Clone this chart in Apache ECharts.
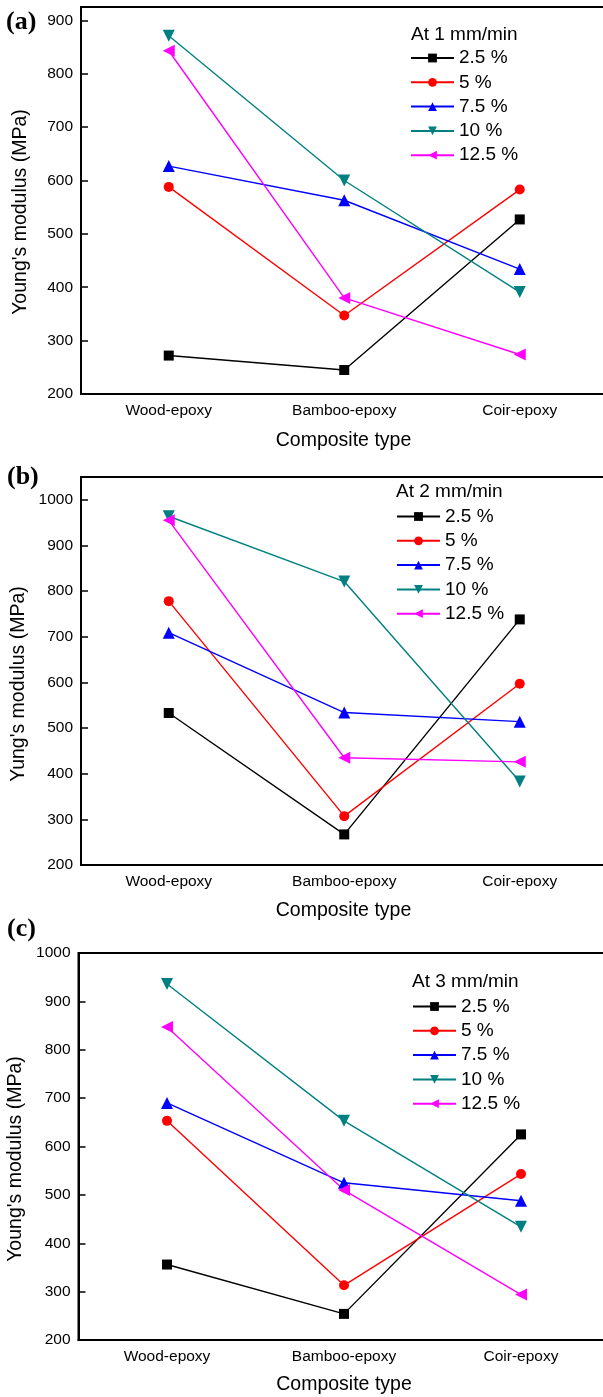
<!DOCTYPE html>
<html>
<head>
<meta charset="utf-8">
<script src="https://cdn.jsdelivr.net/npm/echarts@6/dist/echarts.min.js"></script>
<style>
  html, body { margin: 0; padding: 0; background: #ffffff; overflow: hidden; width: 603px; height: 1397px; }
  /* the drawing surface is a little wider than the page so the frames run off its right edge */
  #chart { width: 616px; height: 1397px; }
</style>
</head>
<body>
<div id="chart"></div>
<script>
// Composite types on the x axis
const categories = ['Wood-epoxy', 'Bamboo-epoxy', 'Coir-epoxy'];
// Filler contents (legend entries)
const contents = ['2.5 %', '5 %', '7.5 %', '10 %', '12.5 %'];
// Legend headings (cross-head speed)
const speeds = ['At 1 mm/min', 'At 2 mm/min', 'At 3 mm/min'];
const panelLetters = ['(a)', '(b)', '(c)'];
const yTitles = ["Young's modulus (MPa)", "Yung's modulus (MPa)", "Young's modulus (MPa)"];
const xTitle = 'Composite type';

// Young's modulus (MPa) at 1 mm/min
const speed1_c25  = [272, 245, 527];
const speed1_c5   = [588, 347, 583];
const speed1_c75  = [627, 563, 434];
const speed1_c10  = [871, 600, 391];
const speed1_c125 = [843, 380, 274];

// Young's modulus (MPa) at 2 mm/min
const speed2_c25  = [533, 267, 738];
const speed2_c5   = [778, 307, 597];
const speed2_c75  = [709, 534, 514];
const speed2_c10  = [964, 821, 383];
const speed2_c125 = [955, 435, 426];

// Young's modulus (MPa) at 3 mm/min
const speed3_c25  = [356, 254, 625];
const speed3_c5   = [653, 313, 543];
const speed3_c75  = [690, 525, 488];
const speed3_c10  = [936, 653, 434];
const speed3_c125 = [847, 510, 294];

// Value-axis ranges per panel
const yMins = [200, 200, 200];
const yMaxs = [925, 1050, 1000];

const panelValues = [
  [speed1_c25, speed1_c5, speed1_c75, speed1_c10, speed1_c125],
  [speed2_c25, speed2_c5, speed2_c75, speed2_c10, speed2_c125],
  [speed3_c25, speed3_c5, speed3_c75, speed3_c10, speed3_c125]
];

// ---- styling ----
const FONT = '"Liberation Sans", Arial, sans-serif';
const seriesColors = ['#000000', '#ff0000', '#0000ff', '#008080', '#ff00ff'];
const seriesSymbols = ['rect', 'circle', 'triangle', 'triangle', 'triangle'];
const seriesRotate = [0, 0, 0, 180, 90];
const seriesSymbolSize = [10, 10, 12, 12, 12];

// Panel geometry (pixels); each frame's right edge lies past the visible page
const grids = [
  { left: 81,   top: 7,   width: 526.5, height: 387 },
  { left: 81,   top: 477, width: 526.5, height: 388 },
  { left: 78.5, top: 953, width: 531,   height: 387 }
];
const legendPos = [
  { left: 410, top: 48.5 },
  { left: 396, top: 507 },
  { left: 412, top: 997 }
];
const headingPos = [[411, 35], [396, 492], [412, 982]];
const letterPos = [[6, 22], [7, 477], [7, 929]];
const yTitlePos = [[21, 212], [18.5, 684], [16, 1159]];
const xTitlePos = [[343.5, 441], [343.5, 911], [344, 1385]];

const option = {
  animation: false,
  backgroundColor: '#ffffff',
  grid: [], xAxis: [], yAxis: [], legend: [], series: [], graphic: []
};

const frameLine = { color: '#000', width: 2 };

grids.forEach((g, i) => {
  option.grid.push(Object.assign({
    show: true, borderColor: '#000', borderWidth: 2, backgroundColor: 'transparent',
    containLabel: false, outerBoundsMode: 'none'
  }, g));

  option.xAxis.push({
    gridIndex: i, type: 'category', data: categories, boundaryGap: true,
    axisLine: { lineStyle: frameLine },
    axisTick: { inside: true, alignWithLabel: true, length: 8, lineStyle: { color: '#000', width: 1.5 } },
    axisLabel: { color: '#000', fontSize: 15.5, fontFamily: FONT, margin: 9 },
    splitLine: { show: false }
  });

  option.yAxis.push({
    gridIndex: i, type: 'value', min: yMins[i], max: yMaxs[i], interval: 100,
    axisLine: { show: true, lineStyle: frameLine },
    axisTick: { show: true, inside: true, length: 7, lineStyle: { color: '#000', width: 1.5 } },
    axisLabel: {
      color: '#000', fontSize: 15.5, fontFamily: FONT, margin: 8,
      formatter: v => (v % 100 === 0 ? String(v) : '')
    },
    splitLine: { show: false }
  });

  option.legend.push({
    orient: 'vertical', left: legendPos[i].left, top: legendPos[i].top,
    padding: 0, itemGap: 5.3, itemWidth: 43, itemHeight: 11,
    selectedMode: false,
    data: contents,
    textStyle: { color: '#000', fontSize: 19, fontFamily: FONT, lineHeight: 18 }
  });

  panelValues[i].forEach((vals, k) => {
    option.series.push({
      name: contents[k], type: 'line', xAxisIndex: i, yAxisIndex: i,
      data: vals,
      symbol: seriesSymbols[k], symbolRotate: seriesRotate[k], symbolSize: seriesSymbolSize[k],
      showAllSymbol: true,
      lineStyle: { color: seriesColors[k], width: 1.4 },
      itemStyle: { color: seriesColors[k], borderWidth: 0 },
      emphasis: { disabled: true }
    });
  });

  option.graphic.push(
    { type: 'text', x: letterPos[i][0], y: letterPos[i][1],
      style: { text: panelLetters[i], fill: '#000', font: 'bold 26px "Liberation Serif", serif', textAlign: 'left', textVerticalAlign: 'middle' } },
    { type: 'text', x: headingPos[i][0], y: headingPos[i][1],
      style: { text: speeds[i], fill: '#000', font: '19px ' + FONT, textAlign: 'left', textVerticalAlign: 'middle' } },
    { type: 'text', x: yTitlePos[i][0], y: yTitlePos[i][1], rotation: Math.PI / 2,
      style: { text: yTitles[i], fill: '#000', font: '19.5px ' + FONT, textAlign: 'center', textVerticalAlign: 'middle' } },
    { type: 'text', x: xTitlePos[i][0], y: xTitlePos[i][1],
      style: { text: xTitle, fill: '#000', font: '19.5px ' + FONT, textAlign: 'center', textVerticalAlign: 'middle' } }
  );
});

const chart = echarts.init(document.getElementById('chart'), null, { renderer: 'canvas', width: 616, height: 1397 });
chart.setOption(option);
</script>
</body>
</html>
